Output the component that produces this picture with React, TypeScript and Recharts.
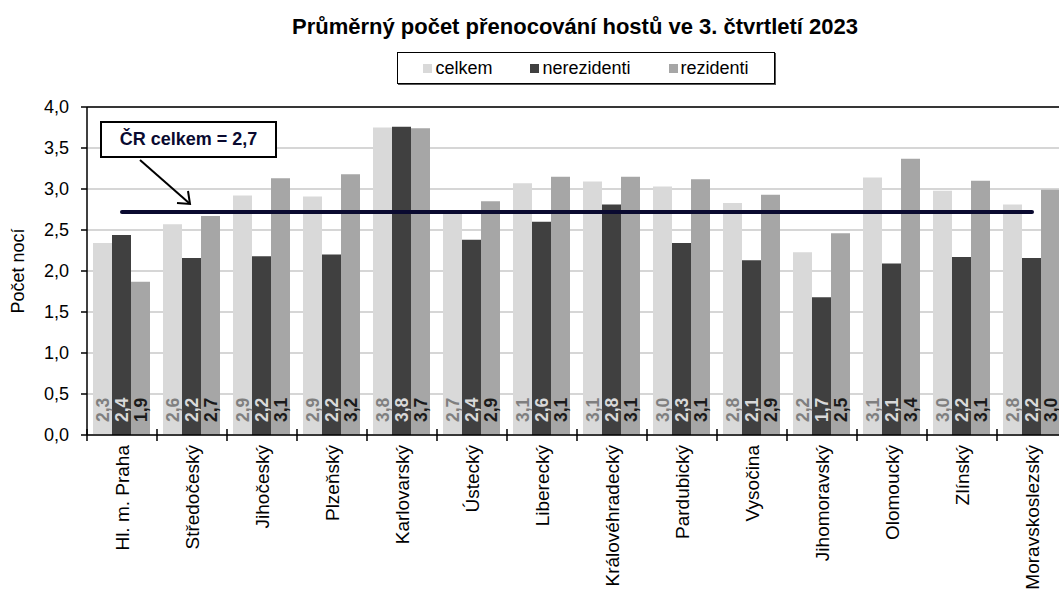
import React from 'react';
import {
  ComposedChart,
  Bar,
  Line,
  XAxis,
  YAxis,
  CartesianGrid,
  Legend,
  LabelList,
  ReferenceLine,
} from 'recharts';

const regions = [
  'Hl. m. Praha',
  'Středočeský',
  'Jihočeský',
  'Plzeňský',
  'Karlovarský',
  'Ústecký',
  'Liberecký',
  'Královéhradecký',
  'Pardubický',
  'Vysočina',
  'Jihomoravský',
  'Olomoucký',
  'Zlínský',
  'Moravskoslezský',
];

const celkem = [2.34, 2.57, 2.92, 2.91, 3.75, 2.72, 3.07, 3.09, 3.03, 2.83, 2.23, 3.14, 2.98, 2.81];
const nerezidenti = [2.44, 2.16, 2.18, 2.2, 3.76, 2.38, 2.6, 2.81, 2.34, 2.13, 1.68, 2.09, 2.17, 2.16];
const rezidenti = [1.87, 2.67, 3.13, 3.18, 3.74, 2.85, 3.15, 3.15, 3.12, 2.93, 2.46, 3.37, 3.1, 2.99];

const CR_TOTAL = 2.72;
const CR_LABEL = 'ČR celkem = 2,7';
const yTicks = [0, 0.5, 1, 1.5, 2, 2.5, 3, 3.5, 4];

const TITLE = 'Průměrný počet přenocování hostů ve 3. čtvrtletí 2023';
const Y_LABEL = 'Počet nocí';

const COLORS = {
  celkem: '#D9D9D9',
  nerezidenti: '#404040',
  rezidenti: '#A6A6A6',
};
const LABEL_COLORS = {
  celkem: '#7F7F7F',
  nerezidenti: '#D9D9D9',
  rezidenti: '#1A1A1A',
};

const data = regions.map((r, i) => ({
  region: r,
  celkem: celkem[i],
  nerezidenti: nerezidenti[i],
  rezidenti: rezidenti[i],
  cr: CR_TOTAL,
}));

const FONT = '"Liberation Sans", Arial, sans-serif';

const fmt = (v: number) => v.toFixed(1).replace('.', ',');

const makeBarLabel = (color: string) => (props: any) => {
  const { x, y, width, height, value } = props;
  const cx = Number(x) + Number(width) / 2;
  const by = Number(y) + Number(height) - 13;
  return (
    <text
      x={cx}
      y={by}
      transform={`rotate(-90, ${cx}, ${by})`}
      textAnchor="start"
      dy="0.35em"
      fill={color}
      fontSize={17.5}
      fontWeight="bold"
      fontFamily={FONT}
    >
      {fmt(Number(value))}
    </text>
  );
};

const XTick = (props: any) => {
  const { x, y, payload } = props;
  const off = payload && payload.offset ? payload.offset : 35;
  const bx = x - off;
  return (
    <g>
      <line x1={bx} y1={y - 6} x2={bx} y2={y + 6} stroke="#000" strokeWidth={1.5} />
      <text
        x={x}
        y={y + 10}
        transform={`rotate(-90, ${x}, ${y + 10})`}
        textAnchor="end"
        dy="0.35em"
        fill="#000"
        fontSize={19}
        fontFamily={FONT}
      >
        {payload.value}
      </text>
    </g>
  );
};

const legendItems = [
  { key: 'celkem', color: COLORS.celkem },
  { key: 'nerezidenti', color: COLORS.nerezidenti },
  { key: 'rezidenti', color: COLORS.rezidenti },
];

const LegendContent = () => (
  <div
    style={{
      width: '100%',
      height: '100%',
      boxSizing: 'border-box',
      border: '1px solid #000',
      boxShadow: '1px 1px 0 #555',
      display: 'flex',
      alignItems: 'center',
      justifyContent: 'center',
      gap: 38,
      fontFamily: FONT,
      fontSize: 18,
      color: '#000',
      background: '#fff',
    }}
  >
    {legendItems.map((it) => (
      <span key={it.key} style={{ display: 'inline-flex', alignItems: 'center' }}>
        <span
          style={{
            display: 'inline-block',
            width: 9,
            height: 9,
            background: it.color,
            marginRight: 3,
          }}
        />
        {it.key}
      </span>
    ))}
  </div>
);

export default function App() {
  return (
    <div
      style={{
        position: 'absolute',
        left: 0,
        top: 0,
        width: 1059,
        height: 590,
        overflow: 'hidden',
        background: '#fff',
        fontFamily: FONT,
      }}
    >
      <div
        style={{
          position: 'absolute',
          left: 0,
          top: 14,
          width: 1150,
          textAlign: 'center',
          fontSize: 22,
          fontWeight: 'bold',
          whiteSpace: 'nowrap',
          color: '#000',
        }}
      >
        {TITLE}
      </div>
      <ComposedChart
        width={1080}
        height={590}
        data={data}
        margin={{ top: 107, right: 13, bottom: 35, left: 30 }}
        barCategoryGap={6}
        barGap={0}
      >
        <CartesianGrid vertical={false} stroke="#C8C8C8" strokeWidth={1.5} />
        <XAxis
          dataKey="region"
          interval={0}
          height={120}
          tickLine={false}
          tickSize={0}
          tickMargin={0}
          axisLine={{ stroke: '#000', strokeWidth: 1.5 }}
          tick={<XTick />}
        />
        <YAxis
          width={57}
          domain={[0, 4]}
          ticks={yTicks}
          interval={0}
          tickFormatter={fmt}
          tickSize={6}
          tickMargin={12}
          axisLine={{ stroke: '#000', strokeWidth: 1.5 }}
          tickLine={{ stroke: '#000', strokeWidth: 1.5 }}
          tick={{ fill: '#000', fontSize: 18, fontFamily: FONT }}
          label={{
            content: (p: any) => {
              const vb = p.viewBox || {};
              const cy = (vb.y || 107) + (vb.height || 328) / 2;
              return (
                <text
                  x={18}
                  y={cy}
                  transform={`rotate(-90, 18, ${cy})`}
                  textAnchor="middle"
                  dy="0.35em"
                  fontSize={18}
                  fontFamily={FONT}
                  fill="#000"
                >
                  {Y_LABEL}
                </text>
              );
            },
          }}
        />
        <ReferenceLine y={4} stroke="#000" strokeWidth={1.5} />
        <Legend
          layout="horizontal"
          verticalAlign="middle"
          align="center"
          content={<LegendContent />}
          wrapperStyle={{ position: 'absolute', left: 397, top: 52, width: 378, height: 32 }}
        />
        <Bar dataKey="celkem" fill={COLORS.celkem} isAnimationActive={false}>
          <LabelList dataKey="celkem" content={makeBarLabel(LABEL_COLORS.celkem)} />
        </Bar>
        <Bar dataKey="nerezidenti" fill={COLORS.nerezidenti} isAnimationActive={false}>
          <LabelList dataKey="nerezidenti" content={makeBarLabel(LABEL_COLORS.nerezidenti)} />
        </Bar>
        <Bar dataKey="rezidenti" fill={COLORS.rezidenti} isAnimationActive={false}>
          <LabelList dataKey="rezidenti" content={makeBarLabel(LABEL_COLORS.rezidenti)} />
        </Bar>
        <Line
          dataKey="cr"
          stroke="#0A0A30"
          strokeWidth={4}
          strokeLinecap="round"
          dot={false}
          activeDot={false}
          legendType="none"
          isAnimationActive={false}
        />
      </ComposedChart>
      <div
        style={{
          position: 'absolute',
          left: 100,
          top: 121,
          width: 177,
          height: 37,
          boxSizing: 'border-box',
          border: '2px solid #000',
          background: '#fff',
          display: 'flex',
          alignItems: 'center',
          justifyContent: 'center',
          fontWeight: 'bold',
          fontSize: 18,
          color: '#0A0A30',
          whiteSpace: 'nowrap',
        }}
      >
        {CR_LABEL}
      </div>
      <svg
        width={1059}
        height={590}
        style={{ position: 'absolute', left: 0, top: 0, pointerEvents: 'none' }}
      >
        <line x1={140} y1={160} x2={189} y2={203} stroke="#000" strokeWidth={2} />
        <polyline
          points="177,203 190,204 188,191"
          fill="none"
          stroke="#000"
          strokeWidth={2}
        />
      </svg>
    </div>
  );
}
